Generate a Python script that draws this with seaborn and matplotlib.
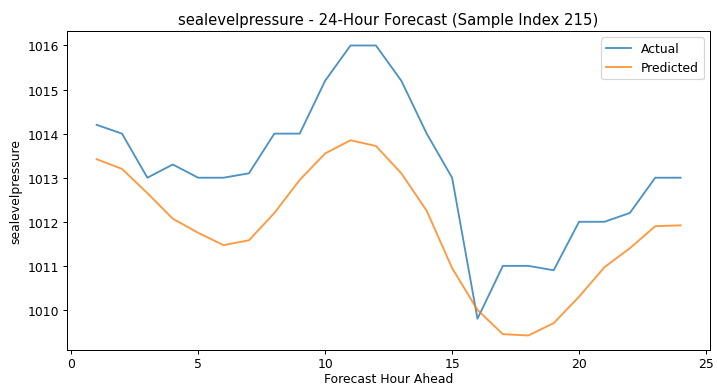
import pandas as pd
import matplotlib
matplotlib.use("Agg")
import matplotlib.pyplot as plt
import seaborn as sns

hours = list(range(1, 25))
actual = [1014.2, 1014.0, 1013.0, 1013.3, 1013.0, 1013.0, 1013.1, 1014.0, 1014.0, 1015.2,
          1016.0, 1016.0, 1015.2, 1014.0, 1013.0, 1009.8, 1011.0, 1011.0, 1010.9, 1012.0,
          1012.0, 1012.2, 1013.0, 1013.0]
predicted = [1013.42, 1013.2, 1012.65, 1012.07, 1011.75, 1011.47, 1011.58, 1012.2, 1012.95, 1013.55,
             1013.85, 1013.72, 1013.1, 1012.25, 1010.95, 1010.0, 1009.45, 1009.42, 1009.7, 1010.3,
             1010.97, 1011.4, 1011.9, 1011.92]

df = pd.concat([
    pd.DataFrame({"hour": hours, "value": actual, "series": "Actual"}),
    pd.DataFrame({"hour": hours, "value": predicted, "series": "Predicted"}),
], ignore_index=True)

dpi = 89
fig, ax = plt.subplots(figsize=(717 / dpi, 390 / dpi), dpi=dpi)
fig.subplots_adjust(left=0.094, right=0.99, top=0.918, bottom=0.1)

sns.lineplot(ax=ax, data=df, x="hour", y="value", hue="series",
             palette=["#1f77b4", "#ff7f0e"], linewidth=1.5, alpha=0.8)

ax.set_title("sealevelpressure - 24-Hour Forecast (Sample Index 215)")
ax.set_xlabel("Forecast Hour Ahead", labelpad=1)
ax.set_ylabel("sealevelpressure")
ax.tick_params(axis="x", pad=2.5)
ax.legend(title=None, loc="upper right")

plt.savefig("out.png", dpi=dpi)
